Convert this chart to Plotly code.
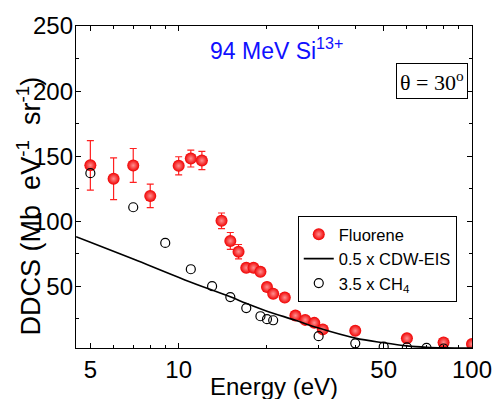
import plotly.graph_objects as go

# Fluorene DDCS (red balls with error bars)
fl_energy = [5, 6, 7, 8, 10, 11, 12, 14, 15, 16, 17, 18, 19, 20, 21, 23, 25, 27, 29, 31, 40, 60, 80, 100]
fl_ddcs = [143, 132.7, 142.9, 119.5, 142.6, 148.2, 146.7, 100.4, 84.9, 76.7, 64.3, 64.3, 61.2, 49.5,
           44.4, 41.4, 27.6, 24.3, 22.0, 17.0, 15.9, 10.1, 7.0, 5.7]
fl_err = [19, 16, 13, 9, 7, 6.5, 7, 6, 6.5, 5.5, 3, 3, 3, 3, 3, 3, 2.5, 2.5, 2.5, 2.5, 2, 2, 2, 2]

# 0.5 x CDW-EIS theory
cdw_energy = [4.47, 5, 7, 10.5, 15, 17, 20, 25, 30, 40, 50, 60, 70, 80, 100]
cdw_ddcs = [88.2, 84, 71, 55, 42, 37, 31, 24, 18, 10.3, 6.7, 4.3, 3.2, 2.8, 2.6]

# 3.5 x CH4 (open circles)
ch4_energy = [5, 7, 9, 11, 13, 15, 17, 19, 20, 21, 30, 40, 50, 60, 70, 80]
ch4_ddcs = [137, 110.8, 83.4, 63.2, 50.2, 41.8, 33.4, 27.1, 24.8, 24.0, 11.8, 6.3, 3.7, 3.2, 2.8, 2.3]

x_ticks = [5, 10, 50, 100]
x_minor = [6, 7, 8, 9, 20, 30, 40, 60, 70, 80, 90]
y_ticks = [50, 100, 150, 200, 250]
y_minor = [25, 75, 125, 175, 225]

FONT = "Liberation Sans, Arial, sans-serif"

fig = go.Figure()
fig.add_trace(go.Scatter(
    x=fl_energy, y=fl_ddcs, mode="markers", name="Fluorene",
    marker=dict(symbol="circle", size=12, color="#f00000",
                gradient=dict(type="radial", color="#ff9090"),
                line=dict(width=0)),
    error_y=dict(type="data", array=fl_err, color="#ff2020", thickness=1.2, width=3.5),
))
fig.add_trace(go.Scatter(
    x=cdw_energy, y=cdw_ddcs, mode="lines", name="0.5 x CDW-EIS",
    line=dict(color="black", width=1.6, shape="spline"),
))
fig.add_trace(go.Scatter(
    x=ch4_energy, y=ch4_ddcs, mode="markers", name="3.5 x CH<sub>4</sub>",
    marker=dict(symbol="circle-open", size=9, color="black", line=dict(width=1.2)),
))

fig.update_layout(
    width=504, height=399,
    margin=dict(l=76, r=23, t=24, b=51),
    paper_bgcolor="white", plot_bgcolor="white",
    font=dict(family=FONT, color="black"),
    showlegend=True,
    legend=dict(x=0.56, y=0.41, xanchor="left", yanchor="top",
                bgcolor="white", bordercolor="black", borderwidth=1,
                font=dict(family=FONT, size=16.5, color="black"),
                tracegroupgap=0, itemsizing="trace"),
    xaxis=dict(type="log", range=[0.65, 2.0],
               tickvals=x_ticks, ticktext=[str(v) for v in x_ticks],
               ticks="inside", ticklen=5, tickcolor="black", tickwidth=1,
               minor=dict(tickvals=x_minor, ticks="inside", ticklen=3, tickcolor="black"),
               showline=True, linecolor="black", linewidth=1.3, mirror="ticks",
               showgrid=False, zeroline=False,
               tickfont=dict(family=FONT, size=24, color="black")),
    yaxis=dict(range=[2.7, 250],
               tickvals=y_ticks,
               ticks="inside", ticklen=5, tickcolor="black", tickwidth=1,
               minor=dict(tickvals=y_minor, ticks="inside", ticklen=3, tickcolor="black"),
               showline=True, linecolor="black", linewidth=1.3, mirror="ticks",
               showgrid=False, zeroline=False, ticklabelstandoff=-3,
               tickfont=dict(family=FONT, size=24, color="black")),
    annotations=[
        dict(text="Energy (eV)", xref="paper", yref="paper", x=0.5, y=-0.119,
             xanchor="center", yanchor="middle", showarrow=False,
             font=dict(family=FONT, size=24, color="black")),
        dict(text="DDCS (Mb&nbsp; eV<sup>-1</sup>&nbsp; sr<sup>-1</sup>)", xref="paper", yref="paper",
             x=-0.1185, y=0.44, xanchor="center", yanchor="middle", textangle=-90,
             showarrow=False, font=dict(family=FONT, size=27, color="black")),
        dict(text="94 MeV Si<sup>13+</sup>", xref="paper", yref="paper", x=0.506, y=0.929,
             xanchor="center", yanchor="middle", showarrow=False,
             font=dict(family=FONT, size=23, color="#1010ff")),
        dict(text="θ = 30<sup>o</sup>", xref="paper", yref="paper", x=0.9, y=0.83,
             xanchor="center", yanchor="middle", showarrow=False,
             bordercolor="black", borderwidth=1, borderpad=3, bgcolor="white",
             font=dict(family="Liberation Serif, Times New Roman, serif", size=22, color="black")),
    ],
)

fig.write_html("out.html", config={"displayModeBar": False},
               post_script="document.body.style.margin='0';document.body.style.overflow='hidden';")
